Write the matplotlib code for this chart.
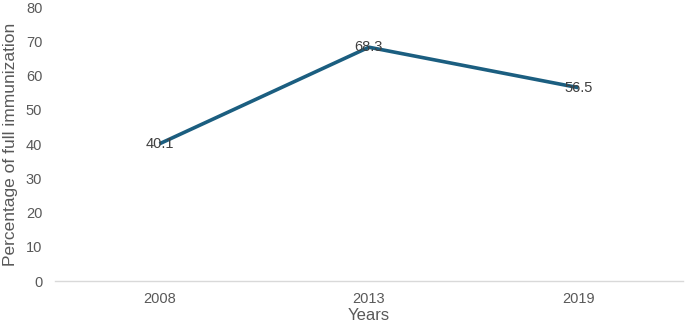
import matplotlib.pyplot as plt

years = ["2008", "2013", "2019"]
immunization = [40.1, 68.3, 56.5]
y_ticks = [0, 10, 20, 30, 40, 50, 60, 70, 80]

plt.rcParams['font.family'] = ['Liberation Sans', 'DejaVu Sans']

fig = plt.figure(figsize=(6.85, 3.25), dpi=100)
ax = fig.add_axes([0.080, 0.135, 0.917, 0.843])

x = list(range(len(years)))
ax.plot(x, immunization, color="#1b5e80", linewidth=2.6, solid_capstyle="butt")

# etiquetas de datos centradas en cada punto
for xi, v in zip(x, immunization):
    ax.text(xi, v, f"{v}", ha="center", va="center", fontsize=10.5, color="#404040")

ax.set_xlim(-0.5, len(years) - 0.5)
ax.set_ylim(0, 80)
ax.set_xticks(x)
ax.set_xticklabels(years)
ax.set_yticks(y_ticks)

for s in ["top", "right", "left"]:
    ax.spines[s].set_visible(False)
ax.spines["bottom"].set_color("#d9d9d9")
ax.spines["bottom"].set_linewidth(1)
ax.tick_params(length=0, labelsize=10.5, colors="#595959", pad=8)
ax.tick_params(axis="y", pad=9)

ax.set_xlabel("Years", fontsize=12, color="#595959", labelpad=1)
ax.set_ylabel("Percentage of full immunization", fontsize=12.5, color="#595959", labelpad=6)

fig.savefig("out.png", dpi=100)
